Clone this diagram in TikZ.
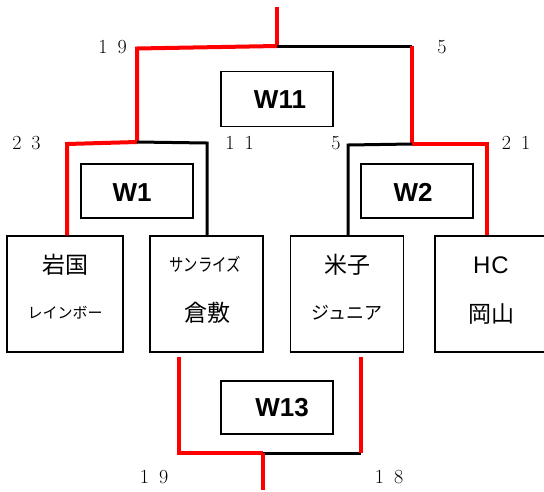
\documentclass[tikz,border=0pt]{standalone}
\usepackage{fontspec}
\newfontfamily\jp{Noto Sans CJK JP}
\newfontfamily\arial{Liberation Sans}
\begin{document}
\begin{tikzpicture}[x=1pt,y=-1pt,
  team/.style={draw, line width=1.5pt, minimum width=113pt, minimum height=116pt, inner sep=0pt},
  wbox/.style={draw, line width=1.5pt, minimum width=112pt, minimum height=54pt, inner sep=0pt},
  wtext/.style={font=\arial\bfseries\fontsize{26}{26}\selectfont, inner sep=0pt},
  big/.style={font=\jp\fontsize{23}{23}\selectfont, inner sep=0pt},
  small/.style={font=\jp\fontsize{15}{15}\selectfont, inner sep=0pt},
  score/.style={font=\fontsize{20}{20}\selectfont, inner sep=0pt},
  redl/.style={draw=red, line width=4pt},
  blkl/.style={draw=black, line width=3pt}]
\useasboundingbox (0,0) rectangle (544,491);
\fill[white] (0,0) rectangle (544,491);

% team boxes
\node[team, minimum width=116pt] (t1) at (65,294) {};
\node[team] (t2) at (206.5,294) {};
\node[team] (t3) at (347,294) {};
\node[team] (t4) at (491.5,294) {};

\node[big] (t1a) at (65,265) {岩国};
\node[small] (t1b) at (65,313) {レインボー};
\node[small, font=\jp\fontsize{18}{18}\selectfont, xscale=0.8] (t2a) at (205,264) {サンライズ};
\node[big] (t2b) at (207,313) {倉敷};
\node[big] (t3a) at (347,265) {米子};
\node[small, font=\jp\fontsize{18}{18}\selectfont] (t3b) at (347,313) {ジュニア};
\node[big, font=\arial\fontsize{24}{24}\selectfont] (t4a) at (491,265) {H\kern1ptC};
\node[big] (t4b) at (491,314) {岡山};

% W boxes
\node[wbox, minimum height=55pt] (w11) at (277,99) {};
\node[wtext] (w11t) at (280,100) {W11};
\node[wbox] (w1) at (137,191) {};
\node[wtext] (w1t) at (132,193) {W1};
\node[wbox] (w2) at (417,191) {};
\node[wtext] (w2t) at (413,192) {W2};
\node[wbox, minimum height=53pt] (w13) at (277,407.5) {};
\node[wtext] (w13t) at (282,408) {W13};

% junction coordinates
\coordinate (top) at (277,7);
\coordinate (j0) at (277,46);
\coordinate (ja) at (137,48.5);
\coordinate (jb) at (412,46);
\coordinate (ja2) at (137,142);
\coordinate (jb2) at (412,144);
\coordinate (c1) at (67,144);
\coordinate (c2) at (207,143);
\coordinate (c3) at (348,145);
\coordinate (c4) at (487,144);
\coordinate (bl) at (179,453);
\coordinate (bm) at (263,453);
\coordinate (br) at (361,453);
\coordinate (bot) at (263,490);
\coordinate (blt) at (179,357);
\coordinate (brt) at (361,357);

% top level
\draw[redl] (top) -- (j0);
\draw[blkl] (j0) -- (jb);
\draw[redl, line join=miter] (j0) -- (ja) -- (ja2);
\draw[redl] (jb) -- (jb2);
% semi-final left
\draw[redl, line join=miter] (ja2) -- (c1) -- (c1 |- t1.north);
\draw[blkl, line join=miter] (ja2) -- (c2) -- (c2 |- t2.north);
% semi-final right
\draw[blkl, line join=miter] (jb2) -- (c3) -- (c3 |- t3.north);
\draw[redl, line join=miter] (jb2) -- (c4) -- (c4 |- t4.north);
% bottom
\draw[redl, line join=miter] (blt) -- (bl) -- (bm);
\draw[blkl] (bm) -- (br);
\draw[redl] (br) -- (brt);
\draw[redl] (bm) -- (bot);

% scores
\node[score] (s1) at (112.5,47) {1\hspace{0.5em}9};
\node[score] (s2) at (442,47) {5};
\node[score] (s3) at (26.5,143) {2\hspace{0.5em}3};
\node[score] (s4) at (239.5,143) {1\hspace{0.5em}1};
\node[score] (s5) at (336,143) {5};
\node[score] (s6) at (516,143) {2\hspace{0.5em}1};
\node[score] (s7) at (154,477) {1\hspace{0.5em}9};
\node[score] (s8) at (389,477) {1\hspace{0.5em}8};
\end{tikzpicture}
\end{document}
